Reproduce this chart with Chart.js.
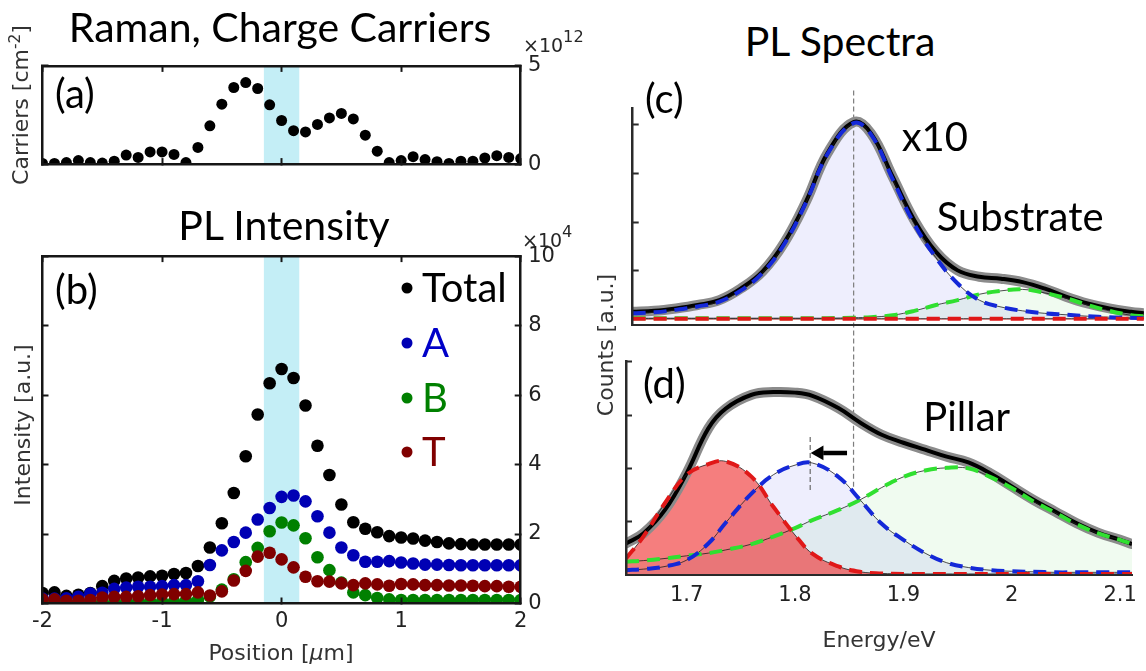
<!DOCTYPE html>
<html lang="en">
<head>
<meta charset="utf-8">
<title>Raman charge carriers and PL maps</title>
<script src="https://cdn.jsdelivr.net/npm/chart.js@4.4.1/dist/chart.umd.min.js"></script>
<style>
  html, body { margin: 0; padding: 0; background: #fff; }
  #figure { position: relative; width: 1146px; height: 671px; overflow: hidden; }
  #figure canvas { position: absolute; }
  .txt { position: absolute; white-space: nowrap; line-height: 1; }
  .big { font-family: Lato, 'Open Sans', sans-serif; font-size: 40px; color: #000; }
  .title { font-size: 41px; }
  .ctr { transform: translateX(-50%); }
  .axis { font-family: 'DejaVu Sans', sans-serif; font-size: 22px; color: #333; transform: translate(-50%, -50%); }
  .vert { transform: translate(-50%, -50%) rotate(-90deg); }
  .axis sup { font-size: 0.7em; }
  .exp { font-family: 'DejaVu Sans', sans-serif; font-size: 19px; color: #262626; }
  .exp span { position: relative; top: -0.62em; font-size: 0.85em; }
  .key { position: absolute; width: 11px; height: 11px; border-radius: 50%; transform: translate(-50%, -50%); }
</style>
</head>
<body>
<div id="figure">
  <canvas id="chartA"></canvas>
  <canvas id="chartB"></canvas>
  <canvas id="chartC"></canvas>
  <canvas id="chartD"></canvas>

  <!-- titles -->
  <div class="txt big title ctr" style="left:280px; top:5.5px">Raman, Charge Carriers</div>
  <div class="txt big title ctr" style="left:284px; top:203.5px">PL Intensity</div>
  <div class="txt big title ctr" style="left:840px; top:20px">PL Spectra</div>

  <!-- panel tags and annotations -->
  <div class="txt big" style="left:55px; top:73px">(a)</div>
  <div class="txt big" style="left:55px; top:268.5px">(b)</div>
  <div class="txt big" style="left:645px; top:77.5px">(c)</div>
  <div class="txt big" style="left:643px; top:362.5px">(d)</div>
  <div class="txt big" style="left:901.7px; top:116.2px">x10</div>
  <div class="txt big" style="left:936.7px; top:195.5px">Substrate</div>
  <div class="txt big" style="left:923.3px; top:396.2px">Pillar</div>

  <!-- scale multipliers -->
  <div class="txt exp" style="left:523px; top:36px">×10<span>12</span></div>
  <div class="txt exp" style="left:522px; top:231px">×10<span>4</span></div>

  <!-- legend of panel (b) -->
  <div class="key" style="left:407px; top:288px; background:#000"></div>
  <div class="key" style="left:407px; top:343px; background:#0000b4"></div>
  <div class="key" style="left:407px; top:398px; background:#008000"></div>
  <div class="key" style="left:407px; top:452px; background:#800000"></div>
  <div class="txt big" style="left:422px; top:266.8px; color:#000">Total</div>
  <div class="txt big" style="left:422px; top:321.8px; color:#0000c8">A</div>
  <div class="txt big" style="left:422px; top:376.8px; color:#008000">B</div>
  <div class="txt big" style="left:422px; top:430.8px; color:#800000">T</div>

  <!-- axis titles -->
  <div class="txt axis vert" style="left:20px; top:105px">Carriers [cm<sup>-2</sup>]</div>
  <div class="txt axis vert" style="left:23px; top:425px">Intensity [a.u.]</div>
  <div class="txt axis" style="left:281px; top:653px">Position [<i>μ</i>m]</div>
  <div class="txt axis vert" style="left:606px; top:345px">Counts [a.u.]</div>
  <div class="txt axis" style="left:879px; top:640px">Energy/eV</div>
</div>

<script>
// Line scan positions [um]
const positions = [-2.0, -1.9, -1.8, -1.7, -1.6, -1.5, -1.4, -1.3, -1.2, -1.1, -1.0, -0.9, -0.8, -0.7, -0.6, -0.5, -0.4, -0.3, -0.2, -0.1,
    0.0, 0.1, 0.2, 0.3, 0.4, 0.5, 0.6, 0.7, 0.8, 0.9, 1.0, 1.1, 1.2, 1.3, 1.4, 1.5, 1.6, 1.7, 1.8, 1.9, 2.0];

// (a) carrier density, x10^12 cm^-2
const carriers = [0.03, 0.03, 0.08, 0.18, 0.08, 0.05, 0.15, 0.46, 0.34, 0.62, 0.62, 0.49, 0.08, 0.85, 1.95, 3.05, 3.90, 4.15, 3.85, 3.02,
    2.22, 1.70, 1.64, 2.02, 2.35, 2.58, 2.30, 1.47, 0.66, 0.08, 0.18, 0.38, 0.23, 0.12, 0.03, 0.15, 0.15, 0.31, 0.43, 0.34, 0.28];

// (b) PL intensities, x10^4
const plTotal = [0.30, 0.32, 0.22, 0.25, 0.30, 0.50, 0.65, 0.72, 0.75, 0.78, 0.80, 0.85, 0.88, 1.08, 1.61, 2.31, 3.18, 4.24, 5.44, 6.34,
    6.75, 6.49, 5.70, 4.54, 3.70, 2.85, 2.34, 2.15, 2.05, 1.94, 1.90, 1.87, 1.81, 1.77, 1.73, 1.71, 1.70, 1.70, 1.70, 1.70, 1.70];
const plA = [0.14, 0.14, 0.15, 0.19, 0.29, 0.31, 0.42, 0.46, 0.48, 0.48, 0.50, 0.53, 0.53, 0.64, 1.11, 1.53, 1.77, 2.04, 2.42, 2.75,
    3.07, 3.11, 2.94, 2.51, 2.04, 1.61, 1.39, 1.20, 1.20, 1.22, 1.18, 1.15, 1.12, 1.12, 1.11, 1.10, 1.10, 1.10, 1.10, 1.10, 1.10];
const plB = [0.05, 0.05, 0.04, 0.04, 0.05, 0.05, 0.05, 0.06, 0.06, 0.06, 0.06, 0.06, 0.09, 0.10, 0.20, 0.40, 0.70, 1.19, 1.60, 2.08,
    2.33, 2.25, 1.88, 1.33, 0.96, 0.60, 0.32, 0.24, 0.16, 0.12, 0.10, 0.10, 0.10, 0.10, 0.10, 0.10, 0.10, 0.10, 0.10, 0.10, 0.10];
const plT = [0.12, 0.12, 0.08, 0.08, 0.10, 0.17, 0.19, 0.19, 0.21, 0.24, 0.26, 0.27, 0.27, 0.32, 0.23, 0.35, 0.66, 0.94, 1.35, 1.46,
    1.27, 1.04, 0.77, 0.64, 0.63, 0.58, 0.53, 0.58, 0.55, 0.51, 0.56, 0.55, 0.53, 0.53, 0.52, 0.52, 0.51, 0.50, 0.50, 0.48, 0.48];

// pillar region (shaded band), um
const pillarEdges = [-0.15, 0.15];

// (c) substrate spectrum and fit components
const energyC = [1.650, 1.670, 1.690, 1.710, 1.730, 1.750, 1.770, 1.790, 1.810, 1.830, 1.854, 1.870, 1.890,
    1.910, 1.930, 1.950, 1.970, 1.990, 2.010, 2.030, 2.050, 2.070, 2.090, 2.110, 2.122];
const subTotal = [0.16, 0.18, 0.23, 0.30, 0.40, 0.64, 0.99, 1.58, 2.42, 3.42, 4.05, 3.82, 2.93,
    2.04, 1.39, 1.01, 0.88, 0.84, 0.77, 0.64, 0.47, 0.33, 0.23, 0.16, 0.13];
const subA = [0.13, 0.15, 0.20, 0.27, 0.37, 0.60, 0.96, 1.55, 2.40, 3.40, 4.03, 3.80, 2.88,
    1.96, 1.27, 0.74, 0.40, 0.26, 0.18, 0.13, 0.10, 0.07, 0.05, 0.04, 0.03];
const subB = [0.03, 0.03, 0.03, 0.03, 0.03, 0.03, 0.03, 0.03, 0.03, 0.03, 0.04, 0.05, 0.09,
    0.18, 0.30, 0.40, 0.52, 0.59, 0.62, 0.55, 0.44, 0.30, 0.18, 0.09, 0.07];
const subT = [0.02, 0.02, 0.02, 0.02, 0.02, 0.02, 0.02, 0.02, 0.02, 0.02, 0.02, 0.02, 0.02,
    0.02, 0.02, 0.02, 0.02, 0.02, 0.02, 0.02, 0.02, 0.02, 0.02, 0.02, 0.02];

// (d) pillar spectrum and fit components
const energyD = [1.644, 1.660, 1.680, 1.700, 1.720, 1.736, 1.760, 1.780, 1.800, 1.816, 1.840, 1.860, 1.880,
    1.900, 1.920, 1.940, 1.960, 1.980, 2.000, 2.020, 2.040, 2.060, 2.080, 2.100, 2.111];
const pilTotal = [0.59, 0.78, 1.22, 1.91, 2.75, 3.12, 3.38, 3.43, 3.42, 3.36, 3.13, 2.86, 2.63,
    2.48, 2.35, 2.22, 2.11, 1.91, 1.66, 1.41, 1.19, 0.97, 0.79, 0.66, 0.58];
const pilT = [0.31, 0.72, 1.35, 1.88, 2.08, 2.13, 1.84, 1.28, 0.75, 0.40, 0.16, 0.06, 0.03,
    0.02, 0.02, 0.02, 0.02, 0.02, 0.02, 0.02, 0.02, 0.02, 0.02, 0.02, 0.02];
const pilA = [0.09, 0.11, 0.16, 0.28, 0.59, 0.98, 1.53, 1.88, 2.06, 2.10, 1.84, 1.41, 0.96,
    0.66, 0.41, 0.23, 0.14, 0.09, 0.07, 0.06, 0.05, 0.05, 0.05, 0.05, 0.05];
const pilB = [0.25, 0.27, 0.31, 0.36, 0.41, 0.47, 0.58, 0.72, 0.88, 1.03, 1.22, 1.41, 1.64,
    1.84, 1.96, 2.01, 2.00, 1.84, 1.63, 1.38, 1.17, 0.95, 0.78, 0.66, 0.58];

// peak energies marked with dashed guides [eV]
const substratePeak = 1.854;
const pillarPeak = 1.814;

// ---- helpers ----
const INK = '#161616';

const pts = (xs, ys) => xs.map((x, i) => ({ x, y: ys[i] }));

// Place a canvas at a fixed spot of the figure
function makeCanvas(id, box) {
    const c = document.getElementById(id);
    c.width = box.w;
    c.height = box.h;
    c.style.left = box.x + 'px';
    c.style.top = box.y + 'px';
    c.style.width = box.w + 'px';
    c.style.height = box.h + 'px';
    return c;
}

// Axis with inward ticks and a fixed thickness, so plot areas line up
function edge(position, size, o) {
    const tickLen = o.tickLen === undefined ? -6 : o.tickLen;
    const scale = {
        type: 'linear',
        position,
        min: o.min,
        max: o.max,
        border: { display: true, color: o.color || INK, width: o.width || 2.5, z: 1 },
        grid: {
            display: true, drawOnChartArea: false, drawTicks: tickLen !== 0,
            tickLength: tickLen, tickColor: o.color || INK, tickWidth: 2, z: 1
        },
        ticks: {
            display: !!o.labels, stepSize: o.step, padding: o.pad || 0,
            font: { family: "'DejaVu Sans', sans-serif", size: 21 }, color: '#222',
            maxRotation: 0, autoSkip: false, callback: v => String(v)
        },
        afterFit: s => { if (s.isHorizontal()) s.height = size; else s.width = size; }
    };
    if (o.fixed) scale.afterBuildTicks = s => { s.ticks = o.fixed.map(v => ({ value: v })); };
    return scale;
}

function chartOptions(scales, padding) {
    return {
        responsive: false,
        animation: false,
        events: [],
        layout: { padding: Object.assign({ top: 0, right: 0, bottom: 0, left: 0 }, padding), autoPadding: false },
        plugins: { legend: { display: false }, tooltip: { enabled: false } },
        elements: { line: { tension: 0.4, fill: false } },
        scales
    };
}

// Shaded pillar band across the whole y range
function pillarBand(top) {
    return {
        type: 'line', data: pillarEdges.map(x => ({ x, y: top })), fill: 'origin',
        backgroundColor: '#c4eef6', borderWidth: 0, pointRadius: 0, tension: 0, order: 90
    };
}

function dots(values, color, radius, order) {
    return {
        data: pts(positions, values), pointRadius: radius, pointBackgroundColor: color,
        pointBorderWidth: 0, borderWidth: 0, clip: 0, order
    };
}

// Measured spectrum + fit components: fills, grey data, black fit sum, dashed components
function spectrum(energy, total, parts) {
    const sets = [];
    parts.forEach((p, i) => sets.push({
        data: pts(energy, p.values), fill: 'origin', backgroundColor: p.fill,
        borderWidth: 0, pointRadius: 0, order: 60 + i
    }));
    sets.push({
        data: pts(energy, total), borderColor: '#8b8b8b', borderWidth: 10,
        borderCapStyle: 'round', borderJoinStyle: 'round', pointRadius: 0, order: 40
    });
    sets.push({ data: pts(energy, total), borderColor: '#000', borderWidth: 4, pointRadius: 0, order: 30 });
    parts.forEach(p => sets.push({
        data: pts(energy, p.values), borderColor: '#1e1e1e', borderWidth: 0.8, pointRadius: 0, order: 25
    }));
    parts.forEach(p => sets.push({
        data: pts(energy, p.values), borderColor: p.line, borderWidth: 4,
        borderDash: [13, 8], pointRadius: 0, order: 20
    }));
    return sets;
}

function guide(x, yTop, yBottom, color) {
    return {
        data: [{ x, y: yTop }, { x, y: yBottom }], borderColor: color, borderWidth: 1.2,
        borderDash: [5, 3], pointRadius: 0, tension: 0, clip: false, order: 50
    };
}

const FILL = { red: 'rgba(238, 40, 40, 0.6)', blue: 'rgba(70, 70, 230, 0.09)', green: 'rgba(60, 210, 60, 0.08)' };
const LINE = { red: '#e01818', blue: '#1428d8', green: '#30e030' };

// ---- (a) Raman, charge carriers ----
new Chart(makeCanvas('chartA', { x: 0, y: 40, w: 600, h: 150 }), {
    type: 'scatter',
    data: { datasets: [dots(carriers, '#000', 5.5, 1), pillarBand(5)] },
    options: chartOptions({
        x: edge('bottom', 23.3, { min: -2, max: 2, step: 1 }),
        x2: edge('top', 18.3, { min: -2, max: 2, step: 1 }),
        y: edge('right', 79.3, { min: 0, max: 5, step: 5, labels: true, pad: 13.3 }),
        y2: edge('left', 42.5, { min: 0, max: 5, step: 5 })
    })
});

// ---- (b) PL intensity ----
new Chart(makeCanvas('chartB', { x: 0, y: 230, w: 600, h: 441 }), {
    type: 'scatter',
    data: {
        datasets: [
            dots(plTotal, '#000', 6.3, 4),
            dots(plA, '#0000b4', 6.3, 3),
            dots(plB, '#008000', 6.3, 2),
            dots(plT, '#800000', 6.3, 1),
            pillarBand(10)
        ]
    },
    options: chartOptions({
        x: edge('bottom', 67.5, { min: -2, max: 2, step: 1, labels: true, pad: 11.5 }),
        x2: edge('top', 25, { min: -2, max: 2, step: 1 }),
        y: edge('right', 79.3, { min: 0, max: 10, step: 2, labels: true, pad: 13.5 }),
        y2: edge('left', 42.5, { min: 0, max: 10, step: 2 })
    })
});

// ---- (c) substrate spectrum ----
new Chart(makeCanvas('chartC', { x: 600, y: 70, w: 546, h: 300 }), {
    type: 'line',
    data: {
        datasets: spectrum(energyC, subTotal, [
            { values: subT, fill: FILL.red, line: LINE.red },
            { values: subA, fill: FILL.blue, line: LINE.blue },
            { values: subB, fill: FILL.green, line: LINE.green }
        ]).concat([guide(substratePeak, 4.70, -0.87, '#7d7d7d')])
    },
    options: chartOptions({
        x: edge('bottom', 45, { min: 1.65, max: 2.122, tickLen: 0, color: '#2a2a2a', width: 2 }),
        y: edge('left', 32.7, { min: -0.11, max: 4.34, fixed: [1, 2, 3, 4], color: '#2a2a2a' })
    }, { top: 38, right: 2.1 })
});

// ---- (d) pillar spectrum ----
new Chart(makeCanvas('chartD', { x: 600, y: 340, w: 546, h: 331 }), {
    type: 'line',
    data: {
        datasets: spectrum(energyD, pilTotal, [
            { values: pilT, fill: FILL.red, line: LINE.red },
            { values: pilA, fill: FILL.blue, line: LINE.blue },
            { values: pilB, fill: FILL.green, line: LINE.green }
        ]).concat([
            guide(substratePeak, 4.0, 1.59, '#7d7d7d'),
            guide(pillarPeak, 2.59, 1.56, '#6a6a6a'),
            // red-shift arrow: shaft, then head
            { data: [{ x: 1.826, y: 2.29 }, { x: 1.848, y: 2.29 }], borderColor: '#000', borderWidth: 4.5,
              borderCapStyle: 'butt', pointRadius: 0, tension: 0, order: 2 },
            { data: [{ x: 1.8223, y: 2.29 }], pointStyle: 'triangle', pointRotation: -90, pointRadius: 8.5,
              pointBackgroundColor: '#000', pointBorderWidth: 0, borderWidth: 0, order: 1 }
        ])
    },
    options: chartOptions({
        x: edge('bottom', 96, { min: 1.644, max: 2.111, tickLen: 0, labels: true, pad: 8,
            fixed: [1.7, 1.8, 1.9, 2, 2.1], color: '#2a2a2a', width: 2 }),
        y: edge('left', 26, { min: 0, max: 4, fixed: [1, 2, 3, 4], color: '#2a2a2a' })
    }, { top: 21.7, right: 14 })
});
</script>
</body>
</html>
